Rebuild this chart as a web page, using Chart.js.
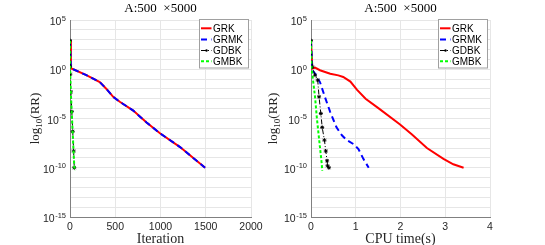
<!DOCTYPE html>
<html>
<head>
<meta charset="utf-8">
<script src="https://cdn.jsdelivr.net/npm/chart.js@4"></script>
<style>
  body { margin: 0; background: #fff; }
  #wrap { position: relative; width: 545px; height: 245px; }
  canvas { position: absolute; top: 0; }
  #left { left: 0; }
  #right { left: 262px; }
</style>
</head>
<body>
<div id="wrap">
  <canvas id="left" width="272" height="245"></canvas>
  <canvas id="right" width="283" height="245"></canvas>
</div>
<script>
// legend names
const methods = ["GRK", "GRMK", "GDBK", "GMBK"];
const yTickExps = [5, 0, -5, -10, -15];

// left panel: iteration vs log10(RR)
const iterGRK = [0, 10, 181, 329, 403, 477, 550, 699, 846, 994, 1216, 1493];
const iterLogGRK = [2.9, 0.1, -0.6, -1.3, -2.0, -2.8, -3.3, -4.2, -5.4, -6.5, -7.9, -10.0];
const iterGRMK = [0, 10, 181, 329, 403, 477, 550, 699, 846, 994, 1216, 1493];
const iterLogGRMK = [2.9, 0.1, -0.6, -1.3, -2.0, -2.8, -3.3, -4.2, -5.4, -6.5, -7.9, -10.0];
const iterGDBK = [0, 1, 3, 10, 20, 30, 40, 47];
const iterLogGDBK = [2.9, 0.3, -0.5, -2.3, -4.3, -6.3, -8.3, -10.0];
const iterGMBK = [0, 1, 3, 10, 20, 30, 40, 50];
const iterLogGMBK = [2.9, 0.5, -0.5, -2.5, -4.5, -6.5, -8.5, -10.3];

// right panel: CPU time vs log10(RR)
const timeGRK = [0, 0.03, 0.09, 0.2, 0.43, 0.61, 0.72, 0.88, 1.03, 1.22, 1.52, 1.99, 2.25, 2.59, 2.96, 3.18, 3.41];
const timeLogGRK = [2.9, 0.07, 0.17, -0.1, -0.45, -0.62, -0.78, -1.25, -2.1, -3.0, -4.0, -5.6, -6.6, -8.0, -9.1, -9.65, -10.0];
const timeGRMK = [0, 0.03, 0.09, 0.2, 0.31, 0.43, 0.57, 0.69, 0.8, 0.95, 1.06, 1.17, 1.29];
const timeLogGRMK = [2.9, -0.1, -0.45, -1.3, -2.8, -4.35, -5.9, -6.7, -7.2, -7.6, -8.1, -9.1, -10.0];
const timeGDBK = [0, 0.03, 0.09, 0.15, 0.18, 0.22, 0.25, 0.3, 0.33, 0.36, 0.37, 0.4];
const timeLogGDBK = [2.9, 0.23, -0.6, -1.1, -2.8, -4.5, -5.9, -7.2, -8.3, -9.3, -9.8, -10.0];
const timeGMBK = [0, 0.01, 0.045, 0.09, 0.13, 0.16, 0.2, 0.24, 0.25];
const timeLogGMBK = [2.9, 0.23, -1.1, -2.8, -4.9, -6.2, -7.9, -9.6, -10.3];

const SANS = "'Liberation Sans', Arial, sans-serif";
const SERIF = "'Liberation Serif', 'Times New Roman', serif";

const styles = [
  { color: "#ff0000", dash: [], width: 2, point: false, order: 4 },
  { color: "#0000ff", dash: [6, 4], width: 2, point: false, order: 3 },
  { color: "#000000", dash: [5, 2, 1, 2], width: 1, point: "star", order: 2 },
  { color: "#00ff00", dash: [3, 2], width: 2, point: false, order: 1 }
];

function toPoints(xs, ys) {
  return xs.map((x, i) => ({ x: x, y: ys[i] }));
}

function makeDatasets(series) {
  return series.map((s, i) => ({
    label: methods[i],
    data: toPoints(s[0], s[1]),
    borderColor: styles[i].color,
    backgroundColor: styles[i].color,
    borderWidth: styles[i].width,
    borderDash: styles[i].dash,
    pointStyle: styles[i].point || "circle",
    pointRadius: styles[i].point ? 2 : 0,
    pointBorderWidth: 1,
    pointBorderColor: styles[i].color,
    showLine: true,
    tension: 0,
    fill: false,
    order: styles[i].order
  }));
}

const textPlugin = {
  id: "matlabText",
  afterDraw(chart, args, opts) {
    const ctx = chart.ctx;
    const area = chart.chartArea;
    const y = chart.scales.y;
    ctx.save();
    ctx.fillStyle = "#262626";

    // y tick labels 10^k
    yTickExps.forEach(function (e) {
      const py = y.getPixelForValue(e);
      ctx.font = "7.5px " + SANS;
      ctx.textAlign = "right";
      ctx.textBaseline = "alphabetic";
      const expText = String(e);
      const expW = ctx.measureText(expText).width;
      ctx.fillText(expText, area.left - 4, py + 0.5);
      ctx.font = "10.5px " + SANS;
      ctx.fillText("10", area.left - 4.5 - expW, py + 5);
    });

    // title
    const cx = (area.left + area.right) / 2;
    ctx.fillStyle = "#000";
    ctx.font = "13px " + SERIF;
    ctx.textAlign = "center";
    ctx.fillText("A:500  \u00d75000", cx, 12);

    // x label
    ctx.fillStyle = "#262626";
    ctx.font = "14px " + SERIF;
    ctx.fillText(opts.xlabel, cx, 243);

    // y label log10(RR)
    ctx.save();
    ctx.translate(opts.ylabelX, (area.top + area.bottom) / 2);
    ctx.rotate(-Math.PI / 2);
    ctx.font = "13px " + SERIF;
    const w1 = ctx.measureText("log").width;
    ctx.font = "9px " + SERIF;
    const w2 = ctx.measureText("10").width;
    ctx.font = "13px " + SERIF;
    const w3 = ctx.measureText("(RR)").width;
    let x0 = -(w1 + w2 + w3) / 2;
    ctx.textAlign = "left";
    ctx.fillText("log", x0, 4);
    ctx.font = "9px " + SERIF;
    ctx.fillText("10", x0 + w1, 7);
    ctx.font = "13px " + SERIF;
    ctx.fillText("(RR)", x0 + w1 + w2, 4);
    ctx.restore();

    // legend box
    const bx = area.right - 51.5;
    const by = 19.5;
    const bw = 49;
    const bh = 48.5;
    ctx.fillStyle = "#fff";
    ctx.fillRect(bx, by, bw, bh);
    ctx.strokeStyle = "#a0a0a0";
    ctx.lineWidth = 1;
    ctx.setLineDash([]);
    ctx.strokeRect(bx, by, bw, bh);
    const rowY = [28.3, 39.5, 50.5, 61.3];
    methods.forEach(function (name, i) {
      const st = styles[i];
      ctx.strokeStyle = st.color;
      ctx.lineWidth = st.width;
      ctx.setLineDash(st.dash);
      ctx.beginPath();
      ctx.moveTo(bx + 1.5, rowY[i]);
      ctx.lineTo(bx + 12, rowY[i]);
      ctx.stroke();
      ctx.setLineDash([]);
      if (st.point) {
        ctx.fillStyle = st.color;
        ctx.beginPath();
        ctx.arc(bx + 7, rowY[i], 1.2, 0, Math.PI * 2);
        ctx.fill();
      }
      ctx.fillStyle = "#000";
      ctx.font = "10px " + SANS;
      ctx.textAlign = "left";
      ctx.textBaseline = "middle";
      ctx.fillText(name, bx + 13.5, rowY[i] + 0.5);
      ctx.textBaseline = "alphabetic";
    });
    ctx.restore();
  }
};

function makeChart(id, series, xMax, xStep, yWidth, padRight, xlabel, ylabelX) {
  const ctx = document.getElementById(id).getContext("2d");
  return new Chart(ctx, {
    type: "scatter",
    data: { datasets: makeDatasets(series) },
    plugins: [textPlugin],
    options: {
      responsive: false,
      animation: false,
      devicePixelRatio: 1,
      layout: { padding: { left: 0, right: padRight, top: 20, bottom: 0 } },
      plugins: {
        legend: { display: false },
        tooltip: { enabled: false },
        matlabText: { xlabel: xlabel, ylabelX: ylabelX }
      },
      scales: {
        x: {
          type: "linear",
          min: 0,
          max: xMax,
          afterFit: function (scale) { scale.height = 28; },
          ticks: {
            stepSize: xStep,
            padding: 4,
            color: "#262626",
            font: { family: SANS, size: 10.5 },
            maxRotation: 0,
            callback: function (value) { return String(value); }
          },
          grid: { color: "#e6e6e6", drawTicks: false },
          border: { display: true, color: "#808080" }
        },
        y: {
          type: "linear",
          min: -15,
          max: 5,
          afterFit: function (scale) { scale.width = yWidth; },
          ticks: { stepSize: 1, display: false },
          grid: { color: "#e6e6e6", drawTicks: false },
          border: { display: true, color: "#808080" }
        }
      }
    }
  });
}

makeChart("left", [
  [iterGRK, iterLogGRK],
  [iterGRMK, iterLogGRMK],
  [iterGDBK, iterLogGDBK],
  [iterGMBK, iterLogGMBK]
], 2000, 500, 70, 21, "Iteration", 35);

makeChart("right", [
  [timeGRK, timeLogGRK],
  [timeGRMK, timeLogGRMK],
  [timeGDBK, timeLogGDBK],
  [timeGMBK, timeLogGMBK]
], 4, 1, 49, 55, "CPU time(s)", 11);
</script>
</body>
</html>
